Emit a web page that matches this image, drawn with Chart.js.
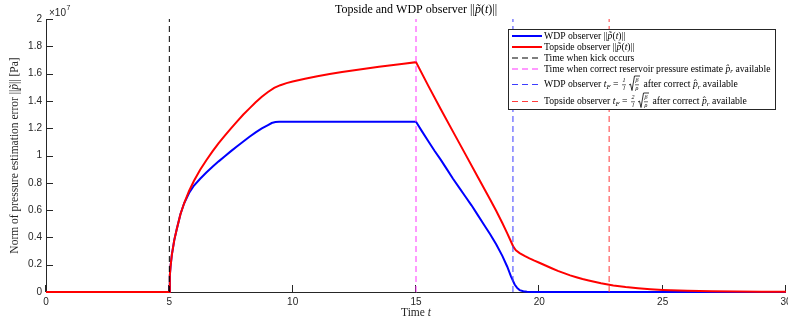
<!DOCTYPE html>
<html>
<head>
<meta charset="utf-8">
<script src="https://cdn.jsdelivr.net/npm/chart.js@4/dist/chart.umd.min.js"></script>
<style>
  html, body { margin: 0; padding: 0; background: #fff; }
  #wrap { width: 788px; height: 321px; }
</style>
</head>
<body>
<div id="wrap"><canvas id="c" width="788" height="321"></canvas></div>
<script>
// WDP observer: time [s] and ||p~(t)|| [Pa]
const wdpTime = [0, 5, 5.02, 5.05, 5.1, 5.2, 5.3, 5.45, 5.6, 5.8, 6, 6.25, 6.5, 6.75, 7, 7.25, 7.5, 7.75, 8, 8.25, 8.5, 8.75, 9, 9.15, 9.3, 9.45,
  15, 15.25, 15.5, 15.75, 16, 16.25, 16.5, 16.75, 17, 17.25, 17.5, 17.75, 18, 18.25, 18.5, 18.7, 18.85, 19, 19.1, 19.2, 19.35, 19.5, 19.7, 30];
const wdpNorm = [0, 0, 1.2e6, 1.9e6, 2.7e6, 3.8e6, 4.6e6, 5.7e6, 6.5e6, 7.25e6, 7.8e6, 8.3e6, 8.75e6, 9.17e6, 9.57e6, 9.95e6, 10.32e6, 10.68e6, 11.03e6, 11.37e6, 11.69e6, 11.98e6, 12.23e6, 12.38e6, 12.45e6, 12.47e6,
  12.47e6, 11.75e6, 11.05e6, 10.35e6, 9.7e6, 9.0e6, 8.3e6, 7.65e6, 7.0e6, 6.35e6, 5.65e6, 4.95e6, 4.25e6, 3.5e6, 2.65e6, 1.85e6, 1.15e6, 0.55e6, 0.3e6, 0.14e6, 0.05e6, 0.01e6, 0, 0];

// Topside observer: time [s] and ||p~(t)|| [Pa]
const topsideTime = [0, 5, 5.02, 5.05, 5.1, 5.2, 5.3, 5.45, 5.6, 5.8, 6, 6.25, 6.5, 6.75, 7, 7.25, 7.5, 7.75, 8, 8.25, 8.5, 8.75, 9, 9.25, 9.5, 9.75,
  10, 10.5, 11, 11.5, 12, 12.5, 13, 13.5, 14, 14.5, 15,
  15.5, 16, 16.5, 17, 17.5, 18, 18.25, 18.5, 18.7, 18.85, 18.95, 19.05, 19.2, 19.4, 19.6, 19.8, 20, 20.25, 20.5, 20.75, 21, 21.25, 21.5, 21.75,
  22, 22.5, 23, 23.5, 24, 24.5, 25, 26, 27, 28, 29, 30];
const topsideNorm = [0, 0, 1.2e6, 1.9e6, 2.7e6, 3.8e6, 4.6e6, 5.7e6, 6.5e6, 7.4e6, 8.15e6, 8.95e6, 9.65e6, 10.3e6, 10.9e6, 11.45e6, 11.98e6, 12.5e6, 13.0e6, 13.45e6, 13.9e6, 14.3e6, 14.65e6, 14.95e6, 15.15e6, 15.3e6,
  15.42e6, 15.62e6, 15.8e6, 15.97e6, 16.12e6, 16.25e6, 16.38e6, 16.5e6, 16.62e6, 16.72e6, 16.84e6,
  15.1e6, 13.4e6, 11.75e6, 10.1e6, 8.45e6, 6.8e6, 5.95e6, 5.05e6, 4.3e6, 3.7e6, 3.3e6, 3.05e6, 2.85e6, 2.65e6, 2.47e6, 2.3e6, 2.14e6, 1.94e6, 1.74e6, 1.55e6, 1.38e6, 1.22e6, 1.08e6, 0.95e6,
  0.84e6, 0.64e6, 0.48e6, 0.36e6, 0.27e6, 0.2e6, 0.15e6, 0.09e6, 0.055e6, 0.03e6, 0.02e6, 0.01e6];

// Event times [s]: kick, correct reservoir estimate, WDP t_F, topside t_F
const eventTimes = [5, 15, 18.93, 22.83];

const xTickValues = [0, 5, 10, 15, 20, 25, 30];
const yTickValues = [0, 0.2e7, 0.4e7, 0.6e7, 0.8e7, 1e7, 1.2e7, 1.4e7, 1.6e7, 1.8e7, 2e7];
const yExponent = 7;

const SERIF = '"Liberation Serif", "Times New Roman", serif';
const SANS = '"Liberation Sans", Arial, Helvetica, sans-serif';
const AXIS_COLOR = '#262626';

const xy = (ts, vs) => ts.map((t, i) => ({ x: t, y: vs[i] }));
const vline = t => [{ x: t, y: 0 }, { x: t, y: 2e7 }];

const eventColors = ['#000000', '#ff33ff', '#3d3dff', '#ff3a3a'];

const datasets = [
  { data: xy(wdpTime, wdpNorm), borderColor: '#0000ff', borderWidth: 2, order: 3, pointRadius: 0, clip: 4 },
  { data: xy(topsideTime, topsideNorm), borderColor: '#ff0000', borderWidth: 2, order: 2, pointRadius: 0, clip: 4 }
];
eventTimes.forEach((t, i) => datasets.push({
  data: vline(t), borderColor: eventColors[i], borderWidth: 1, borderDash: [6, 4],
  pointRadius: 0, order: 1, clip: 4
}));

// Axis lines with inward tick marks, drawn under the curves
const axesPlugin = {
  id: 'axesInward',
  beforeDatasetsDraw(chart) {
    const { ctx, chartArea: a, scales: { x, y } } = chart;
    ctx.save();
    ctx.strokeStyle = AXIS_COLOR;
    ctx.lineWidth = 1;
    ctx.beginPath();
    ctx.moveTo(a.left + 0.5, a.top);
    ctx.lineTo(a.left + 0.5, a.bottom + 0.5);
    ctx.lineTo(a.right, a.bottom + 0.5);
    xTickValues.forEach(v => {
      const px = Math.round(x.getPixelForValue(v)) - 0.5;
      ctx.moveTo(px, a.bottom);
      ctx.lineTo(px, a.bottom - 7);
    });
    yTickValues.forEach(v => {
      const py = Math.round(y.getPixelForValue(v)) + 0.5;
      ctx.moveTo(a.left, py);
      ctx.lineTo(a.left + 7, py);
    });
    ctx.stroke();
    ctx.restore();
  }
};

// Draws a run of text pieces, including small stacked fractions and a radical
function drawRich(ctx, x, y, parts, size) {
  ctx.textBaseline = 'middle';
  ctx.textAlign = 'left';
  const small = Math.round(size * 0.62);
  for (const p of parts) {
    if (p.t !== undefined) {
      ctx.font = (p.i ? 'italic ' : '') + (p.sub ? small + 1 : size) + 'px ' + SERIF;
      ctx.fillText(p.t, x, y + (p.sub ? 2.5 : 0));
      x += ctx.measureText(p.t).width;
    } else if (p.frac) {
      ctx.font = (p.i ? 'italic ' : '') + small + 'px ' + SERIF;
      const w = Math.max(ctx.measureText(p.frac[0]).width, ctx.measureText(p.frac[1]).width) + 1;
      let x0 = x + 1;
      if (p.sqrt) {
        ctx.beginPath();
        ctx.lineWidth = 0.8;
        ctx.moveTo(x0, y + 0.5);
        ctx.lineTo(x0 + 1.5, y - 0.5);
        ctx.lineTo(x0 + 3, y + 6);
        ctx.lineTo(x0 + 5.5, y - 8.5);
        ctx.lineTo(x0 + 6 + w + 1, y - 8.5);
        ctx.stroke();
        x0 += 6;
      }
      ctx.textAlign = 'center';
      ctx.fillText(p.frac[0], x0 + w / 2, y - 3.8);
      ctx.fillText(p.frac[1], x0 + w / 2, y + 4);
      ctx.textAlign = 'left';
      ctx.beginPath();
      ctx.lineWidth = 0.6;
      ctx.moveTo(x0, y + 0.3);
      ctx.lineTo(x0 + w, y + 0.3);
      ctx.stroke();
      x = x0 + w + 2;
    }
  }
  return x;
}

function measureRich(ctx, parts, size) {
  let w = 0;
  const small = Math.round(size * 0.62);
  for (const p of parts) {
    if (p.t !== undefined) {
      ctx.font = (p.i ? 'italic ' : '') + (p.sub ? small + 1 : size) + 'px ' + SERIF;
      w += ctx.measureText(p.t).width;
    }
  }
  return w;
}

const normParts = [{ t: 'p\u0303', i: 1 }, { t: '(' }, { t: 't', i: 1 }, { t: ')||' }];
const legendEntries = [
  { color: '#0000ff', width: 2, dash: [], parts: [{ t: 'WDP observer ||' }, ...normParts] },
  { color: '#ff0000', width: 2, dash: [], parts: [{ t: 'Topside observer ||' }, ...normParts] },
  { color: eventColors[0], width: 1.2, dash: [6, 4], parts: [{ t: 'Time when kick occurs' }] },
  { color: eventColors[1], width: 1.2, dash: [6, 4], parts: [{ t: 'Time when correct reservoir pressure estimate ' }, { t: 'p\u0302', i: 1 }, { t: 'r', i: 1, sub: 1 }, { t: ' available' }] },
  { color: eventColors[2], width: 1.2, dash: [6, 4], parts: [{ t: 'WDP observer ' }, { t: 't', i: 1 }, { t: 'F', i: 1, sub: 1 }, { t: ' = ' }, { frac: ['1', 'l'], i: 1 }, { frac: ['\u03b2', '\u03c1'], i: 1, sqrt: 1 }, { t: ' after correct ' }, { t: 'p\u0302', i: 1 }, { t: 'r', i: 1, sub: 1 }, { t: ' available' }] },
  { color: eventColors[3], width: 1.2, dash: [6, 4], parts: [{ t: 'Topside observer ' }, { t: 't', i: 1 }, { t: 'F', i: 1, sub: 1 }, { t: ' = ' }, { frac: ['2', 'l'], i: 1 }, { frac: ['\u03b2', '\u03c1'], i: 1, sqrt: 1 }, { t: ' after correct ' }, { t: 'p\u0302', i: 1 }, { t: 'r', i: 1, sub: 1 }, { t: ' available' }] }
];
const legendRowY = [36, 47, 58, 69, 84.5, 101.5];

// Title, axis labels, exponent and the boxed legend
const textPlugin = {
  id: 'texts',
  afterDraw(chart) {
    const { ctx, chartArea: a } = chart;
    ctx.save();
    ctx.fillStyle = '#000';
    ctx.strokeStyle = '#000';
    const cx = (a.left + a.right) / 2;

    const titleParts = [{ t: 'Topside and WDP observer ||' }, ...normParts];
    let w = measureRich(ctx, titleParts, 12);
    drawRich(ctx, cx - w / 2, 10, titleParts, 12);

    ctx.fillStyle = AXIS_COLOR;
    const xl = [{ t: 'Time ' }, { t: 't', i: 1 }];
    w = measureRich(ctx, xl, 11.5);
    drawRich(ctx, cx - w / 2, 313, xl, 11.5);

    const yl = [{ t: 'Norm of pressure estimation error ||' }, { t: 'p\u0303', i: 1 }, { t: '|| [Pa]' }];
    w = measureRich(ctx, yl, 11.5);
    ctx.save();
    ctx.translate(15, (a.top + a.bottom) / 2);
    ctx.rotate(-Math.PI / 2);
    drawRich(ctx, -w / 2, 0, yl, 11.5);
    ctx.restore();

    ctx.font = '10px ' + SANS;
    ctx.textBaseline = 'middle';
    ctx.textAlign = 'left';
    ctx.fillText('\u00d710', a.left + 3, 13);
    const ew = ctx.measureText('\u00d710').width;
    ctx.font = '7px ' + SANS;
    ctx.fillText(String(yExponent), a.left + 3 + ew + 0.5, 8);

    const bx = 508, by = 29, bw = 267, bh = 80;
    ctx.fillStyle = '#fff';
    ctx.fillRect(bx, by, bw, bh);
    ctx.strokeStyle = '#262626';
    ctx.lineWidth = 1;
    ctx.strokeRect(bx + 0.5, by + 0.5, bw, bh);
    legendEntries.forEach((e, i) => {
      const y = legendRowY[i];
      ctx.save();
      ctx.strokeStyle = e.color;
      ctx.lineWidth = e.width;
      ctx.setLineDash(e.dash);
      ctx.beginPath();
      ctx.moveTo(512, y);
      ctx.lineTo(542, y);
      ctx.stroke();
      ctx.restore();
      ctx.fillStyle = '#000';
      ctx.strokeStyle = '#000';
      drawRich(ctx, 544, y, e.parts, 9.7);
    });
    ctx.restore();
  }
};

new Chart(document.getElementById('c'), {
  type: 'line',
  data: { datasets },
  options: {
    responsive: false,
    animation: false,
    devicePixelRatio: 1,
    layout: { padding: { top: 19, right: 2, left: 0, bottom: 0 } },
    plugins: { legend: { display: false }, title: { display: false }, tooltip: { enabled: false } },
    elements: { line: { tension: 0 } },
    scales: {
      x: {
        type: 'linear', min: 0, max: 30,
        afterFit(s) { s.height = 29; s.paddingLeft = 0; s.paddingRight = 0; },
        afterBuildTicks(s) { s.ticks = xTickValues.map(v => ({ value: v })); },
        grid: { display: false, drawTicks: false },
        border: { display: false },
        ticks: { color: AXIS_COLOR, font: { family: SANS, size: 10 }, padding: 4, maxRotation: 0,
          callback: v => String(v) }
      },
      y: {
        type: 'linear', min: 0, max: 2e7,
        afterFit(s) { s.width = 46; s.paddingTop = 0; s.paddingBottom = 0; },
        afterBuildTicks(s) { s.ticks = yTickValues.map(v => ({ value: v })); },
        grid: { display: false, drawTicks: false },
        border: { display: false },
        ticks: { color: AXIS_COLOR, font: { family: SANS, size: 10 }, padding: 4,
          callback: v => String(Math.round(v / Math.pow(10, yExponent - 2)) / 100) }
      }
    }
  },
  plugins: [axesPlugin, textPlugin]
});
</script>
</body>
</html>
